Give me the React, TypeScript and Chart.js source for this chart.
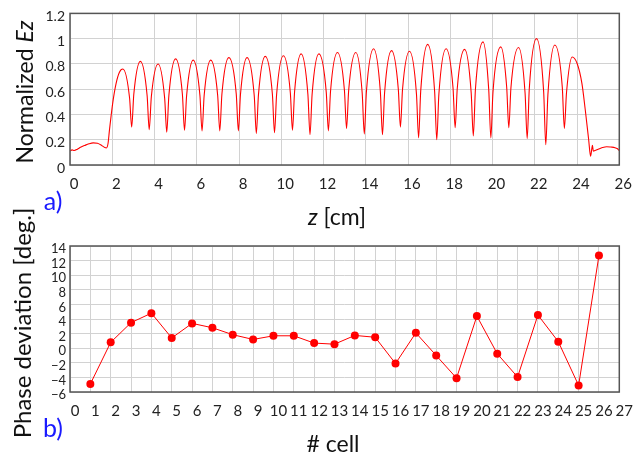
import React, { useEffect, useRef } from "react";
import { Chart, registerables } from "chart.js";

Chart.register(...registerables);

const FONT = "Lato, 'Open Sans', sans-serif";

// ---- Panel a): normalized Ez along z [cm] ----
const ezZ = [
  0, 0.1, 0.2, 0.35, 0.5, 0.7, 0.9, 1.1, 1.3, 1.5, 1.65, 1.72, 1.8, 1.87, 2.03, 2.18, 2.34,
  2.5, 2.82, 2.92, 3.02, 3.33, 3.65, 3.75, 3.85, 4.17, 4.48, 4.58, 4.68, 5.0, 5.32, 5.42, 5.52,
  5.83, 6.15, 6.25, 6.35, 6.66, 6.99, 7.09, 7.19, 7.52, 7.87, 7.97, 8.07, 8.38, 8.72, 8.82, 8.92,
  9.24, 9.58, 9.68, 9.78, 10.1, 10.43, 10.53, 10.63, 10.94, 11.26, 11.36, 11.46, 11.78, 12.13,
  12.23, 12.33, 12.66, 12.99, 13.09, 13.19, 13.53, 13.83, 13.93, 14.03, 14.37, 14.69, 14.79,
  14.89, 15.22, 15.54, 15.64, 15.74, 16.07, 16.4, 16.5, 16.6, 16.93, 17.26, 17.36, 17.46, 17.8,
  18.13, 18.23, 18.33, 18.68, 18.99, 19.09, 19.19, 19.55, 19.82, 19.92, 20.02, 20.39, 20.67,
  20.77, 20.87, 21.23, 21.54, 21.64, 21.74, 22.08, 22.42, 22.52, 22.62, 22.95, 23.3, 23.4, 23.5,
  23.77, 24.0, 24.23, 24.39, 24.55, 24.64, 24.7, 24.73, 24.77, 24.85, 25.0, 25.2, 25.4, 25.6,
  25.8, 25.9, 26.0,
];
const ezV = [
  0.11, 0.12, 0.115, 0.125, 0.14, 0.155, 0.168, 0.175, 0.172, 0.155, 0.138, 0.135, 0.17, 0.28,
  0.5, 0.645, 0.735,
  0.76, 0.53, 0.3, 0.56, 0.82, 0.55, 0.28, 0.54, 0.8, 0.53, 0.26, 0.55, 0.84, 0.56, 0.275, 0.55,
  0.83, 0.55, 0.27, 0.55, 0.83, 0.55, 0.27, 0.56, 0.85, 0.56, 0.27, 0.56, 0.85, 0.55, 0.25, 0.555,
  0.86, 0.56, 0.255, 0.56, 0.865, 0.57, 0.275, 0.58, 0.88, 0.56, 0.24, 0.56, 0.88, 0.575,
  0.27, 0.58, 0.89, 0.59, 0.29, 0.59, 0.89, 0.57, 0.245, 0.58, 0.92, 0.58, 0.24,
  0.57, 0.905, 0.6, 0.3, 0.6, 0.9, 0.56, 0.215, 0.585, 0.955, 0.58, 0.2, 0.56, 0.92,
  0.61, 0.295, 0.605, 0.915, 0.57, 0.23, 0.6, 0.975, 0.595, 0.215, 0.575, 0.935, 0.615,
  0.295, 0.61, 0.93, 0.57, 0.21, 0.605, 1.0, 0.58, 0.16, 0.555, 0.95, 0.62, 0.29, 0.57,
  0.855, 0.805, 0.646, 0.435, 0.2, 0.07, 0.13, 0.155, 0.11, 0.115, 0.125, 0.138, 0.145, 0.142,
  0.137, 0.13, 0.115,
];

// ---- Panel b): phase deviation per cell ----
const cellNumbers = [
  1, 2, 3, 4, 5, 6, 7, 8, 9, 10, 11, 12, 13, 14, 15, 16, 17, 18, 19, 20, 21, 22, 23, 24, 25, 26,
];
const phaseDeviation = [
  -4.9, 0.8, 3.5, 4.8, 1.4, 3.4, 2.8, 1.85, 1.2, 1.7, 1.7, 0.7, 0.55, 1.75, 1.5, -2.1, 2.1, -1.0,
  -4.1, 4.4, -0.75, -3.95, 4.55, 0.9, -5.1, 12.7,
];

const GRID = "#d2d2d2";
const FRAME = "#555555";
const RED = "#ff0000";

const framePlugin = {
  id: "frame",
  afterDraw(chart: any) {
    const { ctx, chartArea: a } = chart;
    ctx.save();
    ctx.strokeStyle = FRAME;
    ctx.lineWidth = 1.5;
    ctx.strokeRect(a.left, a.top, a.right - a.left, a.bottom - a.top);
    ctx.restore();
  },
};

function EzChart() {
  const ref = useRef<HTMLCanvasElement>(null);
  useEffect(() => {
    const chart = new Chart(ref.current as HTMLCanvasElement, {
      type: "line",
      data: {
        datasets: [
          {
            data: ezZ.map((z, i) => ({ x: z, y: ezV[i] })),
            borderColor: RED,
            borderWidth: 1.1,
            pointRadius: 0,
            cubicInterpolationMode: "monotone",
            fill: false,
          },
        ],
      },
      options: {
        responsive: false,
        animation: false,
        layout: { padding: { left: 0, right: 13, top: 13, bottom: 0 } },
        plugins: { legend: { display: false }, tooltip: { enabled: false } },
        scales: {
          x: {
            type: "linear",
            min: 0,
            max: 26,
            afterFit: (s: any) => {
              s.height = 60;
            },
            grid: { color: GRID, drawTicks: false, lineWidth: 1 },
            border: { display: false },
            ticks: {
              stepSize: 2,
              padding: 10,
              labelOffset: 4,
              maxRotation: 0,
              autoSkip: false,
              color: "#222",
              font: { family: FONT, size: 15 },
            },
          },
          y: {
            min: 0,
            max: 1.2,
            afterFit: (s: any) => {
              s.width = 70;
            },
            grid: { color: GRID, drawTicks: false, lineWidth: 1 },
            border: { display: false },
            ticks: {
              stepSize: 0.2,
              padding: 5,
              labelOffset: 3,
              autoSkip: false,
              color: "#222",
              font: { family: FONT, size: 14 },
              callback: (v: any) => String(Math.round(Number(v) * 10) / 10),
            },
          },
        },
      },
      plugins: [framePlugin],
    } as any);
    return () => chart.destroy();
  }, []);
  return <canvas ref={ref} width={638} height={225} style={{ position: "absolute", left: 0, top: 0 }} />;
}

function PhaseChart() {
  const ref = useRef<HTMLCanvasElement>(null);
  useEffect(() => {
    const chart = new Chart(ref.current as HTMLCanvasElement, {
      type: "line",
      data: {
        datasets: [
          {
            data: cellNumbers.map((c, i) => ({ x: c, y: phaseDeviation[i] })),
            borderColor: RED,
            borderWidth: 1,
            pointRadius: 4,
            pointBackgroundColor: RED,
            pointBorderColor: RED,
            pointBorderWidth: 0,
            tension: 0,
            fill: false,
          },
        ],
      },
      options: {
        responsive: false,
        animation: false,
        layout: { padding: { left: 0, right: 13, top: 21, bottom: 0 } },
        plugins: { legend: { display: false }, tooltip: { enabled: false } },
        scales: {
          x: {
            type: "linear",
            min: 0,
            max: 27,
            afterFit: (s: any) => {
              s.height = 62;
            },
            grid: { color: GRID, drawTicks: false, lineWidth: 1 },
            border: { display: false },
            ticks: {
              stepSize: 1,
              padding: 10,
              labelOffset: 5,
              maxRotation: 0,
              autoSkip: false,
              color: "#222",
              font: { family: FONT, size: 15 },
            },
          },
          y: {
            min: -6,
            max: 14,
            afterFit: (s: any) => {
              s.width = 70;
            },
            grid: { color: GRID, drawTicks: false, lineWidth: 1 },
            border: { display: false },
            ticks: {
              stepSize: 2,
              padding: 4,
              labelOffset: 3,
              autoSkip: false,
              color: "#222",
              font: { family: FONT, size: 13 },
              callback: (v: any) => {
                const n = Number(v);
                return n < 0 ? "\u2212" + Math.abs(n) : String(n);
              },
            },
          },
        },
      },
      plugins: [framePlugin],
    } as any);
    return () => chart.destroy();
  }, []);
  return <canvas ref={ref} width={638} height={229} style={{ position: "absolute", left: 0, top: 225 }} />;
}

const label = (cx: number, cy: number, size: number, rotate: boolean, color = "#111"): React.CSSProperties => ({
  position: "absolute",
  left: cx,
  top: cy,
  transform: `translate(-50%, -50%)${rotate ? " rotate(-90deg)" : ""}`,
  whiteSpace: "nowrap",
  fontFamily: FONT,
  fontSize: size,
  lineHeight: 1,
  color,
});

export default function App() {
  return (
    <div
      style={{
        position: "fixed",
        left: 0,
        top: 0,
        width: 638,
        height: 454,
        background: "#fff",
        overflow: "hidden",
      }}
    >
      <EzChart />
      <PhaseChart />
      <div style={label(24, 92, 23, true)}>
        Normalized <i>Ez</i>
      </div>
      <div style={label(337, 216, 23, false)}>
        <i>z</i> [cm]
      </div>
      <div style={label(53, 200, 25, false, "#1a1aff")}>a)</div>
      <div style={label(22, 323, 24, true)}>Phase deviation [deg.]</div>
      <div style={label(333, 443, 23, false)}># cell</div>
      <div style={label(53, 427, 25, false, "#1a1aff")}>b)</div>
    </div>
  );
}
